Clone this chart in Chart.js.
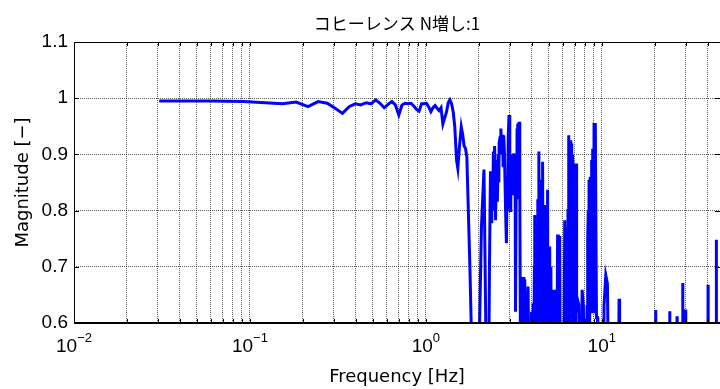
<!DOCTYPE html>
<html lang="ja">
<head>
<meta charset="UTF-8">
<title>コヒーレンス N増し:1</title>
<script src="https://cdn.jsdelivr.net/npm/chart.js"></script>
<style>
  html, body { margin: 0; padding: 0; background: #fff; }
  #wrap { width: 720px; height: 389px; }
</style>
</head>
<body>
<div id="wrap"><canvas id="coh" width="720" height="389"></canvas></div>
<script>
// texts
const titleText = 'コヒーレンス N増し:1';
const xLabel = 'Frequency [Hz]';
const yLabel = 'Magnitude [\u2212]';

// axis ticks
const xMin = 0.01, xMax = 47;
const xDecades = [0.01, 0.1, 1, 10];
const xExponents = ['\u22122', '\u22121', '0', '1'];
const yTicks = [0.6, 0.7, 0.8, 0.9, 1.0, 1.1];
const yTickLabels = ['0.6', '0.7', '0.8', '0.9', '1', '1.1'];

// coherence (values under 0.6 fall outside the axes)
const freqHz = [
  0.0305, 0.061, 0.0915, 0.122, 0.153, 0.183, 0.214, 0.244, 0.275, 0.305,
  0.336, 0.366, 0.397, 0.427, 0.458, 0.488, 0.519, 0.549, 0.580, 0.610,
  0.641, 0.671, 0.702, 0.732, 0.763, 0.793, 0.824, 0.854, 0.885, 0.915,
  0.946, 0.976, 1.007, 1.037, 1.068, 1.098, 1.129, 1.159, 1.19, 1.22,
  1.25, 1.28, 1.31, 1.34, 1.37, 1.40, 1.43, 1.46, 1.495, 1.52,
  1.55, 1.59, 1.62, 1.65, 1.68, 1.71, 1.78, 1.84,
  1.98, 2.07, 2.14, 2.21, 2.27,
  2.30, 2.33, 2.35, 2.37, 2.40, 2.42, 2.44, 2.46, 2.49, 2.52,
  2.55, 2.58, 2.60, 2.61, 2.64, 2.67, 2.70, 2.73, 2.75, 2.77,
  2.80, 2.84, 2.87, 2.90, 2.92, 2.94, 2.97, 3.00, 3.02, 3.04,
  3.07, 3.10, 3.13, 3.16, 3.19, 3.22, 3.235, 3.27, 3.29, 3.30,
  3.32, 3.34, 3.36, 3.39, 3.42, 3.46,
  3.52, 3.57, 3.61, 3.65, 3.71, 3.76, 3.81, 3.86, 3.93, 3.99, 4.04,
  4.07, 4.10, 4.14, 4.16, 4.18, 4.22, 4.25, 4.27, 4.30, 4.33,
  4.36, 4.39, 4.42, 4.45, 4.47, 4.50, 4.53, 4.55, 4.58, 4.61,
  4.64, 4.68, 4.71, 4.74, 4.77, 4.79, 4.82, 4.86, 4.89, 4.92,
  4.95, 4.99, 5.03, 5.06, 5.10, 5.14, 5.17, 5.22, 5.31, 5.41,
  5.54,
  5.61, 5.66, 5.72, 5.77, 5.82,
  6.00, 6.10, 6.16, 6.19, 6.22, 6.26, 6.29, 6.35, 6.38, 6.43,
  6.49, 6.52, 6.56, 6.59, 6.62, 6.65, 6.68, 6.70, 6.73, 6.76,
  6.79, 6.82, 6.85, 6.88, 6.91, 6.94, 6.97, 7.00, 7.03, 7.06,
  7.10, 7.14, 7.18, 7.21, 7.30, 7.40, 7.50,
  7.65, 7.73, 7.86, 8.00, 8.15,
  8.25, 8.30, 8.34, 8.38, 8.42, 8.47, 8.50, 8.53, 8.57, 8.60,
  8.64, 8.67, 8.70, 8.74, 8.78, 8.82, 8.86, 8.90, 8.94, 8.97,
  9.01, 9.04, 9.08, 9.12, 9.16, 9.19, 9.33, 9.44, 9.50,
  10.0, 10.25, 10.3, 10.54, 10.77, 10.96, 12.45, 12.54, 12.63, 20.2,
  20.27, 20.34, 24.28, 24.34, 24.40, 26.72, 26.78, 26.84, 28.79, 28.85,
  28.91, 29.95, 30.0, 30.06, 40.14, 40.2, 40.26, 44.74, 44.8, 44.86,
  47
];
const coherence = [
  0.995, 0.995, 0.994, 0.992, 0.990, 0.993, 0.985, 0.994, 0.991, 0.982,
  0.973, 0.985, 0.990, 0.988, 0.992, 0.990, 0.997, 0.991, 0.983, 0.989,
  0.994, 0.988, 0.970, 0.988, 0.991, 0.990, 0.991, 0.986, 0.980, 0.977,
  0.990, 0.990, 0.991, 0.985, 0.976, 0.983, 0.987, 0.982, 0.978, 0.983,
  0.954, 0.965, 0.975, 0.992, 0.997, 0.990, 0.976, 0.950, 0.890, 0.875,
  0.911, 0.949, 0.935, 0.915, 0.911, 0.896, 0.700, 0.500,
  0.45, 0.77, 0.873, 0.50, 0.45,
  0.70, 0.87, 0.78, 0.85, 0.80, 0.905, 0.84, 0.915, 0.783, 0.89,
  0.816, 0.90, 0.85, 0.92, 0.93, 0.946, 0.90, 0.935, 0.88, 0.934,
  0.90, 0.80, 0.742, 0.86, 0.80, 0.93, 0.97, 0.89, 0.80, 0.83,
  0.85, 0.90, 0.83, 0.902, 0.86, 0.825, 0.62, 0.90, 0.82, 0.946,
  0.85, 0.955, 0.86, 0.958, 0.84, 0.45,
  0.50, 0.682, 0.60, 0.678, 0.45, 0.55, 0.665, 0.50, 0.45, 0.62, 0.50,
  0.635, 0.45, 0.70, 0.792, 0.55, 0.74, 0.60, 0.776, 0.58, 0.82,
  0.70, 0.905, 0.55, 0.70, 0.76, 0.52, 0.80, 0.855, 0.65, 0.887,
  0.58, 0.78, 0.81, 0.55, 0.72, 0.686, 0.50, 0.72, 0.60, 0.837,
  0.55, 0.70, 0.736, 0.55, 0.70, 0.686, 0.50, 0.659, 0.45, 0.659,
  0.45,
  0.755, 0.755, 0.50, 0.755, 0.45,
  0.40, 0.55, 0.783, 0.60, 0.70, 0.55, 0.76, 0.771, 0.55, 0.80,
  0.934, 0.60, 0.85, 0.58, 0.925, 0.62, 0.80, 0.58, 0.92, 0.65,
  0.82, 0.58, 0.90, 0.62, 0.75, 0.58, 0.884, 0.60, 0.78, 0.58,
  0.86, 0.62, 0.884, 0.63, 0.64, 0.632, 0.45,
  0.50, 0.659, 0.63, 0.45, 0.50,
  0.632, 0.62, 0.75, 0.80, 0.60, 0.855, 0.62, 0.78, 0.60, 0.86,
  0.65, 0.80, 0.62, 0.89, 0.62, 0.85, 0.62, 0.91, 0.65, 0.88,
  0.62, 0.956, 0.65, 0.90, 0.62, 0.956, 0.61, 0.61, 0.45,
  0.40, 0.45, 0.63, 0.685, 0.67, 0.45, 0.45, 0.643, 0.45, 0.45,
  0.623, 0.45, 0.45, 0.621, 0.45, 0.45, 0.612, 0.45, 0.45, 0.671,
  0.45, 0.45, 0.624, 0.45, 0.45, 0.668, 0.45, 0.45, 0.748, 0.45,
  0.45
];

// every 1..9 x 10^n line of the log grid
const xGrid = [];
xDecades.forEach(d => {
  for (let k = 1; k <= 9; k++) {
    if (k * d <= xMax) xGrid.push(k * d);
  }
});

const gridColor = 'rgba(0,0,0,0.62)';

// MATLAB-like frame, tick marks and labels
const matlabFrame = {
  id: 'matlabFrame',
  afterDraw(chart) {
    const { ctx, chartArea: a, scales: { x, y } } = chart;
    ctx.save();
    ctx.fillStyle = '#000';
    ctx.strokeStyle = '#000';

    // title
    ctx.font = '17px "Noto Sans CJK JP"';
    ctx.textAlign = 'center';
    ctx.textBaseline = 'middle';
    ctx.fillText(titleText, (a.left + a.right) / 2, 24);

    // x label
    ctx.font = '18px "DejaVu Sans"';
    ctx.textBaseline = 'alphabetic';
    ctx.fillText(xLabel, (a.left + a.right) / 2, 382);

    // y label
    ctx.save();
    ctx.translate(28, (a.top + a.bottom) / 2);
    ctx.rotate(-Math.PI / 2);
    ctx.fillText(yLabel, 0, 0);
    ctx.restore();

    // decade labels 10^n
    xDecades.forEach((d, i) => {
      const px = x.getPixelForValue(d);
      ctx.font = '19px "Liberation Sans"';
      const wBase = ctx.measureText('10').width;
      ctx.font = '13px "Liberation Sans"';
      const wExp = ctx.measureText(xExponents[i]).width;
      const start = px - (wBase + wExp) / 2;
      ctx.textAlign = 'left';
      ctx.font = '19px "Liberation Sans"';
      ctx.fillText('10', start, 352);
      ctx.font = '13px "Liberation Sans"';
      ctx.fillText(xExponents[i], start + wBase, 342);
    });

    // box
    ctx.lineWidth = 1;
    ctx.beginPath();
    ctx.moveTo(a.left + 0.5, a.bottom);
    ctx.lineTo(a.left + 0.5, a.top + 0.5);
    ctx.lineTo(a.right, a.top + 0.5);
    ctx.stroke();
    ctx.lineWidth = 2;
    ctx.beginPath();
    ctx.moveTo(a.left, a.bottom);
    ctx.lineTo(a.right, a.bottom);
    ctx.stroke();

    // inward tick marks
    ctx.lineWidth = 1;
    ctx.beginPath();
    xGrid.forEach(v => {
      const px = Math.round(x.getPixelForValue(v)) + 0.5;
      ctx.moveTo(px, a.top); ctx.lineTo(px, a.top + 4);
      ctx.moveTo(px, a.bottom); ctx.lineTo(px, a.bottom - 4);
    });
    yTicks.forEach(v => {
      const py = Math.round(y.getPixelForValue(v)) + 0.5;
      ctx.moveTo(a.left, py); ctx.lineTo(a.left + 5, py);
      ctx.moveTo(a.right, py); ctx.lineTo(a.right - 5, py);
    });
    ctx.stroke();
    ctx.restore();
  }
};

const ctx = document.getElementById('coh').getContext('2d');
const chart = new Chart(ctx, {
  type: 'line',
  data: {
    datasets: [{
      data: freqHz.map((f, i) => ({ x: f, y: coherence[i] })),
      borderColor: '#0000ff',
      borderWidth: 3,
      pointRadius: 0,
      tension: 0,
      fill: false
    }]
  },
  options: {
    responsive: false,
    animation: false,
    layout: { padding: { top: 42, right: 0, left: 0, bottom: 0 } },
    plugins: {
      legend: { display: false },
      title: { display: false },
      tooltip: { enabled: false }
    },
    scales: {
      x: {
        type: 'logarithmic',
        min: xMin,
        max: xMax,
        bounds: 'data',
        afterBuildTicks: s => { s.ticks = xGrid.map(v => ({ value: v })); },
        afterFit: s => { s.height = 66; },
        ticks: { display: false },
        grid: { color: gridColor, lineWidth: 1, drawTicks: false },
        border: { display: false, dash: [1, 1] }
      },
      y: {
        min: 0.6,
        max: 1.1,
        afterBuildTicks: s => { s.ticks = yTicks.map(v => ({ value: v })); },
        afterFit: s => { s.width = 74; },
        ticks: {
          padding: 6,
          color: '#000',
          font: { family: 'Liberation Sans', size: 19 },
          callback: (v, i) => yTickLabels[i]
        },
        grid: { color: gridColor, lineWidth: 1, drawTicks: false },
        border: { display: false, dash: [1, 1] }
      }
    }
  },
  plugins: [matlabFrame]
});
</script>
</body>
</html>
